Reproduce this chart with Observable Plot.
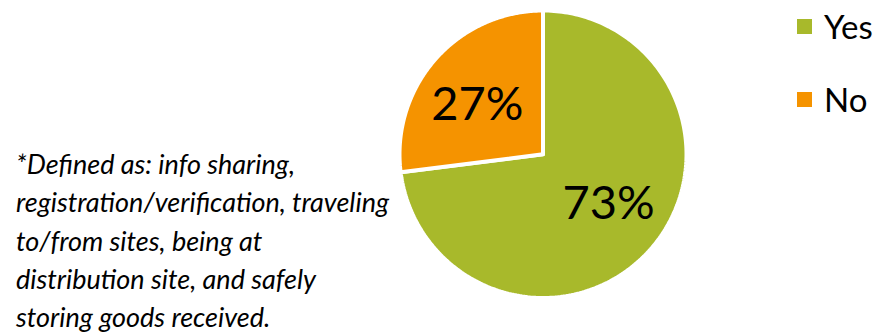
<!DOCTYPE html>
<html>
<head>
<meta charset="utf-8">
<script src="https://cdn.jsdelivr.net/npm/d3@7"></script>
<script src="https://cdn.jsdelivr.net/npm/@observablehq/plot@0.6"></script>
<style>
  html, body { margin: 0; padding: 0; background: #fff; }
  #wrap { position: relative; width: 892px; height: 333px; overflow: hidden; font-family: Lato, "Open Sans", sans-serif; }
  #wrap svg { position: absolute; left: 0; top: 0; }
  .legend-item { position: absolute; display: flex; align-items: center; font-size: 33px; color: #000; }
  .legend-item span.sw { display: inline-block; width: 15px; height: 15px; margin-right: 12px; }
  #note { position: absolute; left: 16px; top: 145px; font-style: italic; font-size: 27px; line-height: 38.3px; color: #000; white-space: nowrap; }
</style>
</head>
<body>
<div id="wrap"></div>
<script>
const categories = ["Yes", "No"];
const values = [73, 27];
const colors = ["#a8b92b", "#f59300"];
const labels = ["73%", "27%"];
const footnoteLines = [
  "*Defined as: info sharing,",
  "registration/verification, traveling",
  "to/from sites, being at",
  "distribution site, and safely",
  "storing goods received."
];

const arcs = d3.pie().sort(null)(values);
const pts = [];
const labelRows = [];
arcs.forEach((a, i) => {
  const n = 240;
  pts.push({cat: categories[i], x: 0, y: 0});
  for (let k = 0; k <= n; k++) {
    const t = a.startAngle + (a.endAngle - a.startAngle) * k / n;
    pts.push({cat: categories[i], x: Math.sin(t), y: Math.cos(t)});
  }
  pts.push({cat: categories[i], x: 0, y: 0});
  const m = (a.startAngle + a.endAngle) / 2;
  labelRows.push({label: labels[i], x: 0.61 * Math.sin(m), y: 0.52 * Math.cos(m)});
});

const chart = Plot.plot({
  width: 892,
  height: 333,
  margin: 0,
  x: {domain: [-1, 1], range: [399, 686], axis: null},
  y: {domain: [-1, 1], range: [297.5, 10], axis: null},
  color: {domain: categories, range: colors},
  style: {background: "transparent"},
  marks: [
    Plot.line(pts, {x: "x", y: "y", z: "cat", fill: "cat", stroke: "white", strokeWidth: 4, strokeLinejoin: "miter", curve: "linear"}),
    Plot.text(labelRows, {x: "x", y: "y", text: "label", fontSize: 47, fill: "#000", fontFamily: "Lato, sans-serif", textAnchor: "middle"})
  ]
});

const wrap = document.getElementById("wrap");
wrap.appendChild(chart);

const legendTops = [6, 79];
categories.forEach((c, i) => {
  const d = document.createElement("div");
  d.className = "legend-item";
  d.style.left = "797px";
  d.style.top = legendTops[i] + "px";
  const sw = document.createElement("span");
  sw.className = "sw";
  sw.style.background = colors[i];
  d.appendChild(sw);
  d.appendChild(document.createTextNode(c));
  wrap.appendChild(d);
});

const note = document.createElement("div");
note.id = "note";
note.innerHTML = footnoteLines.map(s => s.replace(/&/g, "&amp;")).join("<br>");
wrap.appendChild(note);
</script>
</body>
</html>
